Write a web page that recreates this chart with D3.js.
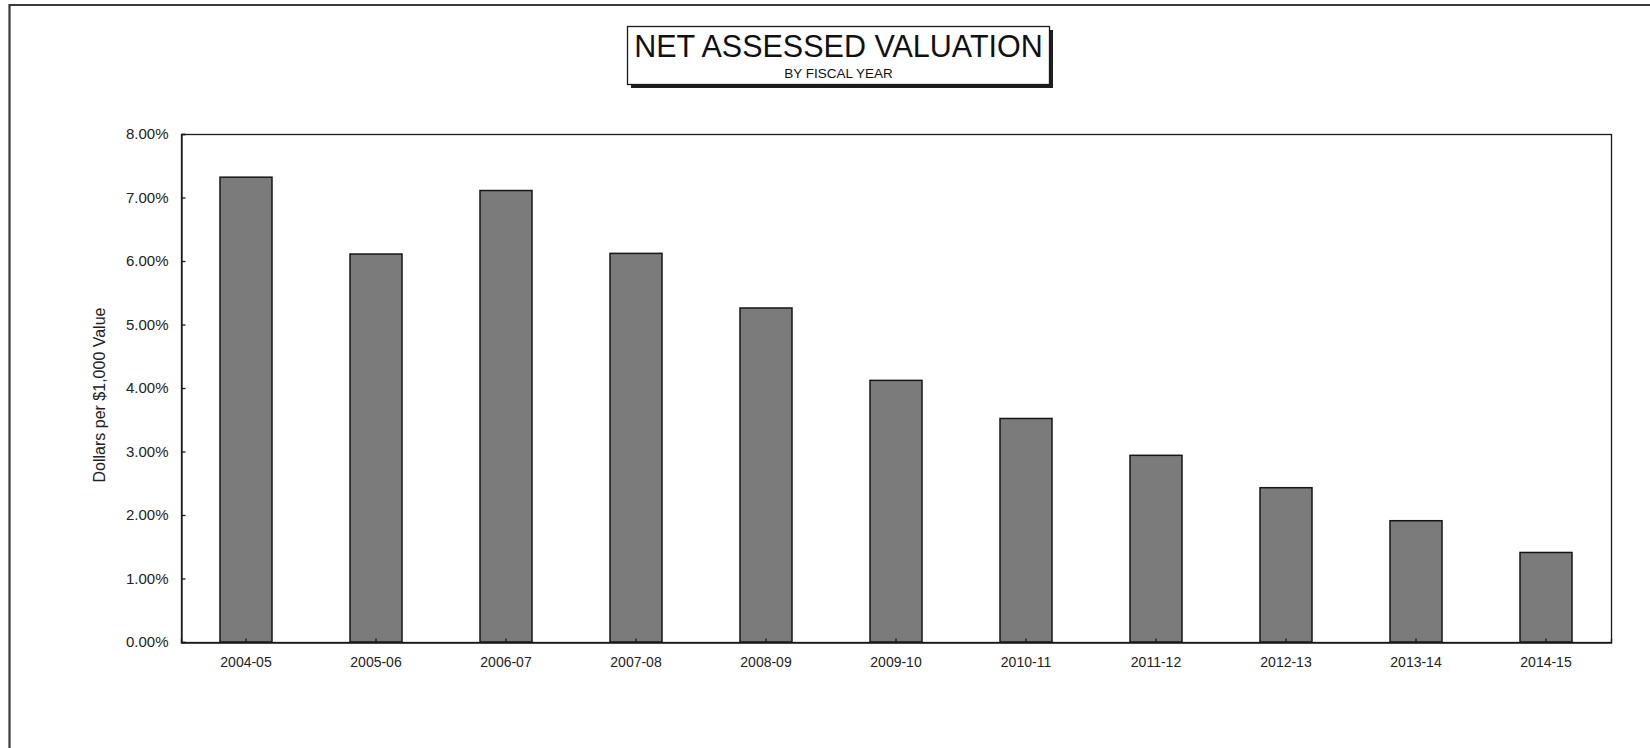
<!DOCTYPE html>
<html>
<head>
<meta charset="utf-8">
<script src="https://cdn.jsdelivr.net/npm/d3@7/dist/d3.min.js"></script>
<style>
  html, body { margin: 0; padding: 0; background: #ffffff; }
  svg { display: block; font-family: Arial, "Liberation Sans", Helvetica, sans-serif; }
</style>
</head>
<body>
<svg id="chart" width="1650" height="748"></svg>
<script>
// Fiscal years on the category axis
const fiscalYears = ["2004-05", "2005-06", "2006-07", "2007-08", "2008-09", "2009-10",
                     "2010-11", "2011-12", "2012-13", "2013-14", "2014-15"];
// Net assessed valuation, percent (dollars per $1,000 value)
const valuationPct = [7.32, 6.11, 7.11, 6.12, 5.26, 4.12, 3.52, 2.94, 2.43, 1.91, 1.41];
// Value-axis ticks
const yTicks = [0, 1, 2, 3, 4, 5, 6, 7, 8];

const titleMain = "NET ASSESSED VALUATION";
const titleSub = "BY FISCAL YEAR";
const yAxisTitle = "Dollars per $1,000 Value";

const svg = d3.select("#chart");

// Page frame: rule across the top and down the left side
svg.append("path")
  .attr("d", "M9.5,748 L9.5,5 L1650,5")
  .attr("fill", "none")
  .attr("stroke", "#3a3a3a")
  .attr("stroke-width", 2.2);

// Plot area
const plot = { left: 181, right: 1611, top: 134, bottom: 642 };

const x = d3.scaleBand()
  .domain(fiscalYears)
  .range([plot.left, plot.right])
  .paddingInner(0.6)
  .paddingOuter(0.3);

const y = d3.scaleLinear()
  .domain([0, 8])
  .range([plot.bottom, plot.top]);

// Plot frame
svg.append("rect")
  .attr("x", plot.left + 0.5)
  .attr("y", plot.top + 0.5)
  .attr("width", plot.right - plot.left)
  .attr("height", plot.bottom - plot.top)
  .attr("fill", "none")
  .attr("stroke", "#1a1a1a")
  .attr("stroke-width", 1.3);

// Bars
svg.append("g")
  .selectAll("rect")
  .data(valuationPct)
  .join("rect")
  .attr("x", (d, i) => x(fiscalYears[i]))
  .attr("y", d => y(d))
  .attr("width", x.bandwidth())
  .attr("height", d => y(0) - y(d))
  .attr("fill", "#7b7b7b")
  .attr("stroke", "#161616")
  .attr("stroke-width", 1.5);

// Value axis with inward ticks
const yAxis = d3.axisLeft(y)
  .tickValues(yTicks)
  .tickSize(-4)
  .tickPadding(13)
  .tickFormat(d => d3.format(".2f")(d) + "%");

const yg = svg.append("g")
  .attr("transform", `translate(${plot.left + 0.5},0)`)
  .call(yAxis);
yg.select(".domain").attr("stroke", "#1a1a1a").attr("stroke-width", 1.3);
yg.selectAll(".tick line").attr("stroke", "#1a1a1a").attr("stroke-width", 1.3);
yg.selectAll(".tick text")
  .attr("font-size", 15)
  .attr("font-family", "Arial, 'Liberation Sans', sans-serif")
  .attr("fill", "#222");

// Category axis
const xAxis = d3.axisBottom(x)
  .tickSize(-4)
  .tickPadding(15);

const xg = svg.append("g")
  .attr("transform", `translate(0,${plot.bottom + 0.5})`)
  .call(xAxis);
xg.select(".domain").attr("stroke", "#1a1a1a").attr("stroke-width", 1.3);
xg.selectAll(".tick line").attr("stroke", "#1a1a1a").attr("stroke-width", 1.3);
xg.selectAll(".tick text")
  .attr("font-size", 14)
  .attr("font-family", "Arial, 'Liberation Sans', sans-serif")
  .attr("fill", "#222");

// Value-axis title
svg.append("text")
  .attr("transform", `translate(101,${(plot.top + plot.bottom) / 2 + 7}) rotate(-90)`)
  .attr("text-anchor", "middle")
  .attr("dominant-baseline", "middle")
  .attr("font-size", 16)
  .attr("fill", "#222")
  .text(yAxisTitle);

// Title box with drop shadow
const tb = { x: 627, y: 26, w: 422, h: 58 };
svg.append("rect")
  .attr("x", tb.x + 4).attr("y", tb.y + 4)
  .attr("width", tb.w).attr("height", tb.h)
  .attr("fill", "#1e1e1e");
svg.append("rect")
  .attr("x", tb.x + 0.5).attr("y", tb.y + 0.5)
  .attr("width", tb.w).attr("height", tb.h)
  .attr("fill", "#ffffff")
  .attr("stroke", "#1a1a1a")
  .attr("stroke-width", 1.3);

svg.append("text")
  .attr("x", tb.x + tb.w / 2 + 0.5)
  .attr("y", 57)
  .attr("text-anchor", "middle")
  .attr("font-size", 30.5)
  .attr("fill", "#111")
  .text(titleMain);

svg.append("text")
  .attr("x", tb.x + tb.w / 2 + 0.5)
  .attr("y", 78)
  .attr("text-anchor", "middle")
  .attr("font-size", 13.5)
  .attr("fill", "#111")
  .text(titleSub);
</script>
</body>
</html>
